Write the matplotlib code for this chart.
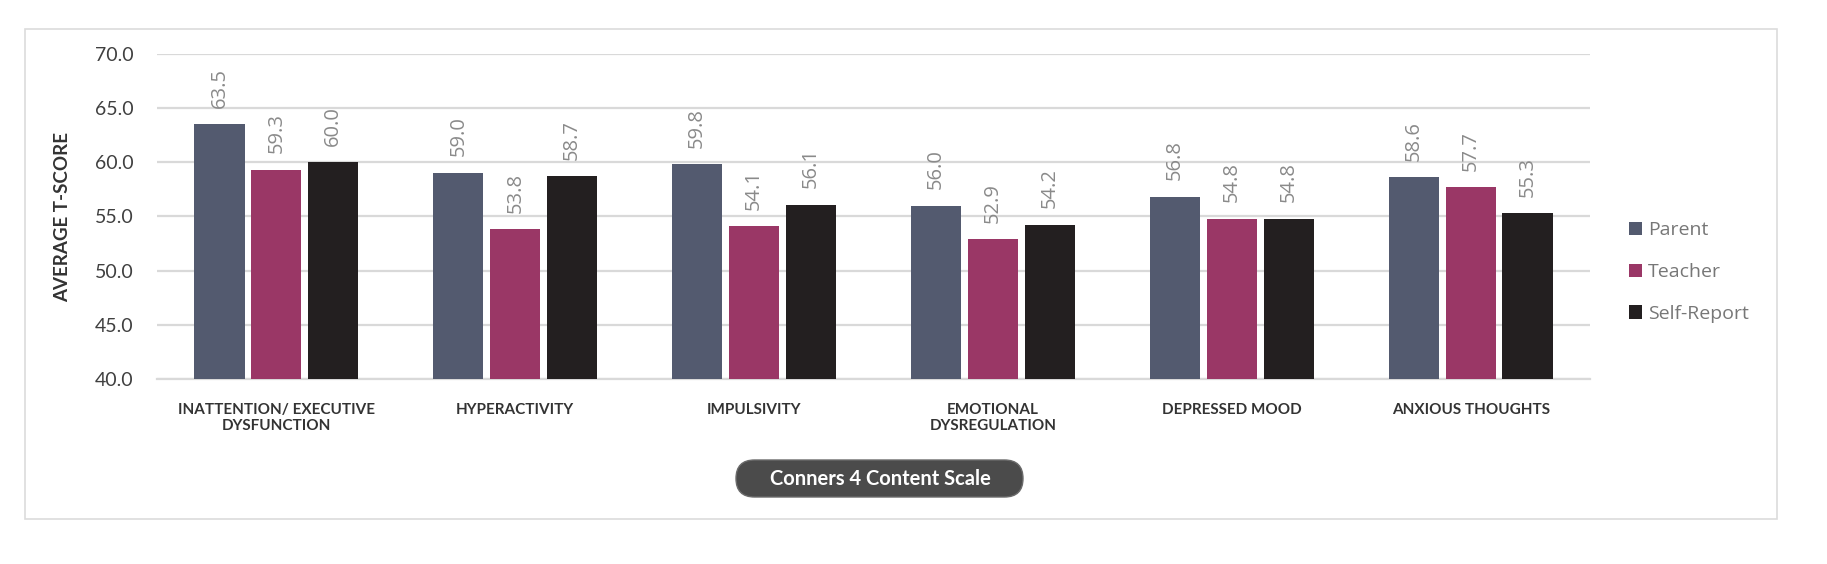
import matplotlib
matplotlib.use("Agg")
import matplotlib.pyplot as plt
import numpy as np
from matplotlib.patches import FancyBboxPatch, Rectangle

categories = ["INATTENTION/ EXECUTIVE\nDYSFUNCTION", "HYPERACTIVITY", "IMPULSIVITY",
              "EMOTIONAL\nDYSREGULATION", "DEPRESSED MOOD", "ANXIOUS THOUGHTS"]
series_names = ["Parent", "Teacher", "Self-Report"]
parent = [63.5, 59.0, 59.8, 56.0, 56.8, 58.6]
teacher = [59.3, 53.8, 54.1, 52.9, 54.8, 57.7]
self_report = [60.0, 58.7, 56.1, 54.2, 54.8, 55.3]
yticks = [40.0, 45.0, 50.0, 55.0, 60.0, 65.0, 70.0]
colors = ["#535a6f", "#9a3766", "#231f20"]

W, H = 1827, 564
fig = plt.figure(figsize=(W / 100, H / 100), dpi=100)
fig.patch.set_facecolor("white")

# outer frame
fig.add_artist(Rectangle((25 / W, 1 - 519 / H), (1777 - 25) / W, (519 - 29) / H,
                         transform=fig.transFigure, fill=False,
                         edgecolor="#dcdcdc", linewidth=1.2))

ax = fig.add_axes([157 / W, 1 - 379 / H, (1590 - 157) / W, (379 - 54) / H])

x = np.arange(len(categories))
width = 0.21
offset = 0.238
bars = []
for i, (vals, name, c) in enumerate(zip([parent, teacher, self_report], series_names, colors)):
    b = ax.bar(x + (i - 1) * offset, np.array(vals) - 40, bottom=40, width=width,
               color=c, label=name, zorder=3)
    bars.append(b)
    for xi, v in zip(x + (i - 1) * offset, vals):
        ax.annotate(f"{v:.1f}", (xi, v), xytext=(0, 12), textcoords="offset points",
                    rotation=90, ha="center", va="bottom", color="#8a8a8a",
                    fontsize=14.5, family="Open Sans")

ax.set_xlim(-0.5, len(categories) - 0.5)
ax.set_ylim(40, 70)
ax.set_yticks(yticks)
ax.set_yticklabels([f"{t:.1f}" for t in yticks], family="Lato", fontsize=14, color="#404040")
ax.set_xticks(x)
ax.set_xticklabels(categories, family="Lato", fontweight="bold", fontsize=11,
                   color="#333333", linespacing=1.25)
ax.tick_params(axis="both", length=0)
ax.tick_params(axis="y", pad=17)
ax.tick_params(axis="x", pad=17)
ax.grid(axis="y", color="#d9d9d9", linewidth=1.6, zorder=0)
ax.set_axisbelow(True)
for s in ["top", "right", "left"]:
    ax.spines[s].set_visible(False)
ax.spines["bottom"].set_color("#d9d9d9")
ax.spines["bottom"].set_linewidth(1.6)

fig.text(63 / W, 1 - 217 / H, "AVERAGE T-SCORE", rotation=90, ha="center", va="center",
         family="Lato", fontweight="bold", fontsize=13.5, color="#333333")

leg = ax.legend(handles=bars, labels=series_names, loc="center left",
                bbox_to_anchor=(1629 / W, 1 - 272 / H), bbox_transform=fig.transFigure,
                frameon=False, handlelength=0.67, handleheight=0.67,
                handletextpad=0.3, labelspacing=1.22, borderpad=0, borderaxespad=0,
                prop={"family": "Open Sans", "size": 14})
for t in leg.get_texts():
    t.set_color("#777777")

# caption pill
pill = FancyBboxPatch((736, H - 497), 1023 - 736, 37,
                      boxstyle="round,pad=0,rounding_size=18.5",
                      transform=None, facecolor="#4b4b4b", edgecolor="#6a6a6a",
                      linewidth=1)
fig.add_artist(pill)
fig.text(880 / W, 1 - 479 / H, "Conners 4 Content Scale", ha="center", va="center",
         family="Lato", fontweight="bold", fontsize=14.5, color="white")

fig.savefig("out.png", dpi=100)
